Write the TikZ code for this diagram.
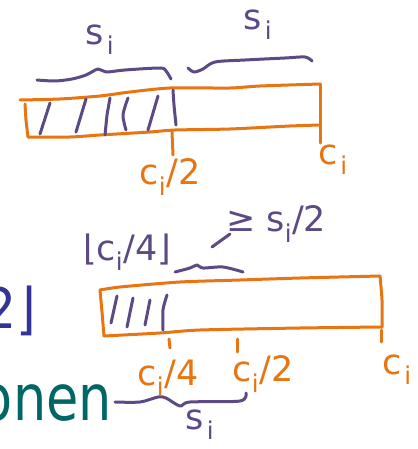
\documentclass[tikz,border=0pt]{standalone}
\usepackage{fontspec}
\setmainfont{DejaVu Sans}
\definecolor{pen}{RGB}{232,117,17}
\definecolor{ink}{RGB}{92,74,132}
\definecolor{slideblue}{RGB}{51,51,153}
\definecolor{slideteal}{RGB}{0,102,102}
\tikzset{
  orangepen/.style={draw=pen,line width=3pt,line cap=round,line join=round},
  purplepen/.style={draw=ink,line width=3pt,line cap=round,line join=round},
  orangelabel/.style={text=pen,font=\fontsize{35}{38}\selectfont,inner sep=0pt},
  purplelabel/.style={text=ink,font=\fontsize{35}{38}\selectfont,inner sep=0pt},
}
\newcommand{\subi}{\kern3pt\textsubscript{i}}
\begin{document}
\begin{tikzpicture}[x=1pt,y=-1pt]
\useasboundingbox (0,0) rectangle (417,449);
\clip (0,0) rectangle (417,449);
% slide text fragments
\node[text=slideblue,font=\fontsize{56}{60}\selectfont,anchor=base east,inner sep=0pt,xscale=0.9] (frag2) at (36,328) {2⌋};
\node[text=slideteal,font=\fontsize{64}{70}\selectfont,anchor=base east,inner sep=0pt,xscale=0.82] (fragonen) at (112,420) {onen};

% ---------- top bar ----------
\draw[orangepen] plot[smooth,tension=0.4] coordinates {(20,100) (60,99) (100,96) (130,92) (170,88) (230,88) (260,86) (320,84)};
\draw[orangepen] plot[smooth,tension=0.4] coordinates {(25,104) (26,120) (28,137)};
\draw[orangepen] plot[smooth,tension=0.4] coordinates {(28,137) (70,137) (100,135) (150,132) (175,130) (230,129) (290,126) (320,125)};
\draw[orangepen] (320,84) -- (320,143);
\draw[orangepen] (172,132) -- (173,155);
% hatches
\draw[purplepen] (40,134) -- (50,103);
\draw[purplepen] (76,132) -- (86,99);
\draw[purplepen] (105,135) -- (107,115) -- (110,98);
\draw[purplepen] plot[smooth] coordinates {(126,130) (123,115) (128,98)};
\draw[purplepen] (148,130) -- (158,96);
\draw[purplepen] plot[smooth] coordinates {(173,90) (174,105) (176,125)};
% braces
\draw[purplepen] plot[smooth,tension=0.5] coordinates {(37,80) (55,81) (72,79) (86,75) (98,69) (106,72) (125,70) (160,68) (166,71) (171,79)};
\draw[purplepen] plot[smooth,tension=0.5] coordinates {(188,68) (194,72) (203,69) (215,62) (245,60) (285,58) (305,57) (312,61)};
\node[purplelabel] (stop1) at (100,40) {s\subi};
\node[purplelabel] (stop2) at (258,25) {s\subi};
\node[orangelabel] (chalf1) at (170,177) {c\textsubscript{i}/2};
\node[orangelabel] (cfull1) at (333,160) {c\subi};

% ---------- bottom bar ----------
\draw[orangepen] plot[smooth,tension=0.4] coordinates {(100,290) (120,287) (180,282) (240,280) (300,278) (380,276)};
\draw[orangepen] plot[smooth,tension=0.4] coordinates {(100,290) (102,312) (104,336)};
\draw[orangepen] plot[smooth,tension=0.4] coordinates {(104,336) (160,333) (200,330) (300,328) (382,327)};
\draw[orangepen] plot[smooth,tension=0.4] coordinates {(380,276) (382,300) (382,327)};
\draw[orangepen] (381,330) -- (381,342);
\draw[orangepen] (169,339) -- (170,348);
\draw[orangepen] (237,339) -- (237,352);
% hatches
\draw[purplepen] (117,296) -- (111,323);
\draw[purplepen] (133,298) -- (127,327);
\draw[purplepen] (150,300) -- (145,325);
\draw[purplepen] plot[smooth] coordinates {(167,295) (163,310) (163,330)};
% labels
\node[orangelabel] (cquart) at (168,378) {c\textsubscript{i}/4};
\node[orangelabel] (chalf2) at (263,374) {c\textsubscript{i}/2};
\node[orangelabel] (cfull2) at (397,370) {c\subi};
\node[purplelabel] (floorlab) at (127,252) {⌊c\textsubscript{i}/4⌋};
\node[purplelabel,anchor=west] (gelab) at (226,224) {≥ s\textsubscript{i}/2};
% squiggle under floor label
\draw[purplepen] plot[smooth,tension=0.5] coordinates {(175,272) (190,268) (197,265) (203,268) (223,267) (243,272)};
\draw[purplepen] (212,247) -- (230,234);
% brace under bottom bar
\draw[purplepen] plot[smooth,tension=0.5] coordinates {(115,402) (140,402) (158,397) (166,398) (180,406) (190,402) (240,401) (246,393)};
\node[purplelabel] (sbot) at (200,425) {s\subi};
\end{tikzpicture}
\end{document}
